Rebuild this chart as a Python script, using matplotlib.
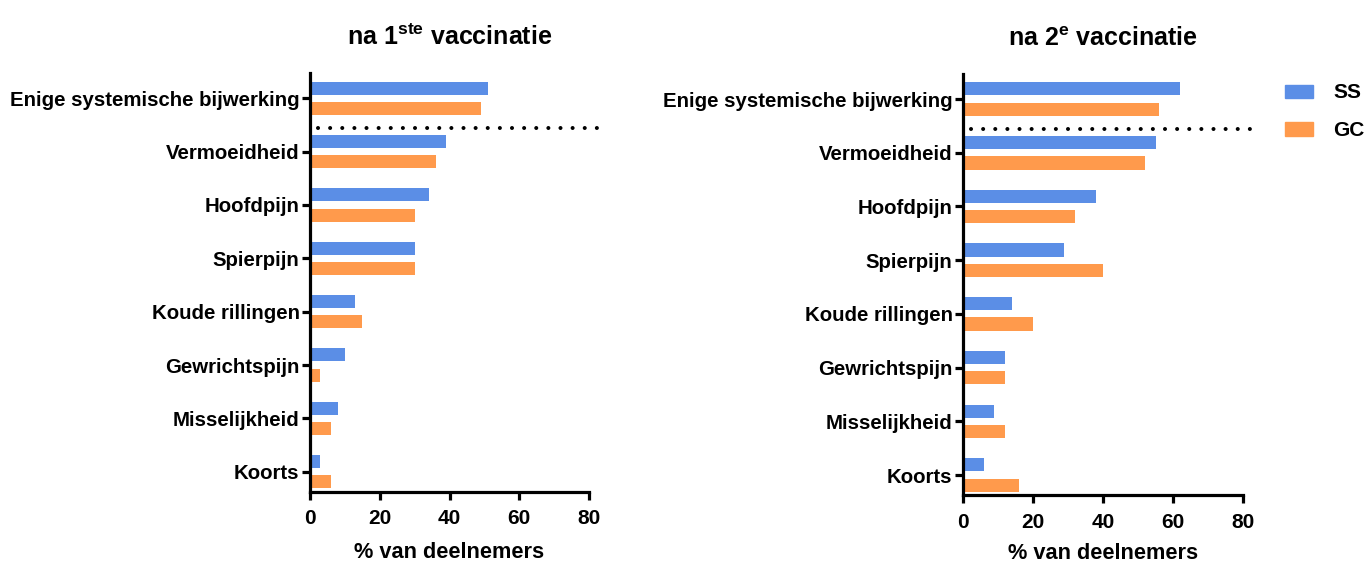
import numpy as np
import matplotlib.pyplot as plt
from matplotlib.patches import Patch

plt.rcParams['font.family'] = ['Liberation Sans', 'DejaVu Sans']
plt.rcParams['font.weight'] = 'bold'
plt.rcParams['mathtext.fontset'] = 'custom'
plt.rcParams['mathtext.bf'] = 'Liberation Sans:bold'
plt.rcParams['mathtext.rm'] = 'Liberation Sans:bold'

categories = ['Enige systemische bijwerking', 'Vermoeidheid', 'Hoofdpijn', 'Spierpijn',
              'Koude rillingen', 'Gewrichtspijn', 'Misselijkheid', 'Koorts']

# na 1ste vaccinatie
ss_1 = [51, 39, 34, 30, 13, 10, 8, 3]
gc_1 = [49, 36, 30, 30, 15, 3, 6, 6]
# na 2e vaccinatie
ss_2 = [62, 55, 38, 29, 14, 12, 9, 6]
gc_2 = [56, 52, 32, 40, 20, 12, 12, 16]

titles = [r'na 1$^{\mathbf{ste}}$ vaccinatie', r'na 2$^{\mathbf{e}}$ vaccinatie']
xticks = [0, 20, 40, 60, 80]

blue = '#5B8EE6'
orange = '#FF9A4C'

fig = plt.figure(figsize=(13.64, 5.63), dpi=100)
ax1 = fig.add_axes([0.2273, 0.126, 0.2045, 0.744])
ax2 = fig.add_axes([0.706, 0.120, 0.2053, 0.749])

y = np.arange(len(categories))
h = 0.245
off = 0.19

for ax, ss, gc, title, lpad in [(ax1, ss_1, gc_1, titles[0], 10), (ax2, ss_2, gc_2, titles[1], 8)]:
    ax.barh(y - off, ss, height=h, color=blue)
    ax.barh(y + off, gc, height=h, color=orange)
    # dotted separator
    ax.plot([2.3, 82.8], [0.55, 0.55], color='black', lw=2.9,
            linestyle=(0, (0.01, 3.0)), dash_capstyle='round', clip_on=False)
    ax.set_xlim(0, 80)
    ax.set_ylim(7.38, -0.47)
    ax.set_yticks(y)
    ax.set_yticklabels(categories, fontsize=14.7, fontweight='bold')
    ax.set_xticks(xticks)
    ax.set_xticklabels([str(t) for t in xticks], fontsize=15, fontweight='bold')
    ax.set_xlabel('% van deelnemers', fontsize=15.7, fontweight='bold', labelpad=lpad)
    ax.set_title(title, fontsize=18, fontweight='bold', pad=20)
    for s in ['top', 'right']:
        ax.spines[s].set_visible(False)
    for s in ['left', 'bottom']:
        ax.spines[s].set_linewidth(2.3)
    ax.tick_params(axis='both', width=2.3, length=5.5, direction='out', pad=2)
    ax.tick_params(axis='x', pad=7)

handles = [Patch(color=blue, label='SS'), Patch(color=orange, label='GC')]
fig.legend(handles=handles, loc='upper left', bbox_to_anchor=(0.928, 0.885),
           frameon=False, prop={'size': 15, 'weight': 'bold'},
           handlelength=1.35, handleheight=0.6, labelspacing=0.9, handletextpad=1.0)

fig.savefig('out.png', dpi=100)
